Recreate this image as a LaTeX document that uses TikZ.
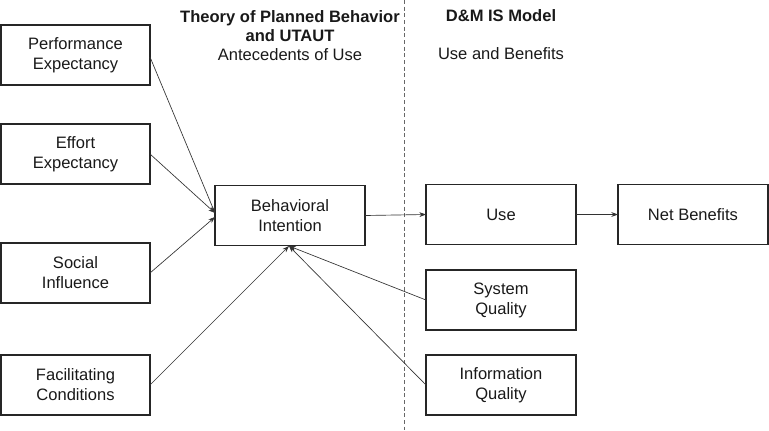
\documentclass[tikz,border=0pt]{standalone}
\usepackage{fontspec}
\setmainfont{Liberation Sans}
\usetikzlibrary{arrows.meta,calc}
\begin{document}
\begin{tikzpicture}[x=0.75pt,y=-0.75pt,
  box/.style={draw=black!85,line width=0.8pt,minimum width=149*0.75pt,minimum height=60*0.75pt,
    inner sep=0pt,outer sep=0pt,align=center,font=\fontsize{12.4}{15}\selectfont,text=black!90},
  conn/.style={draw=black!80,line width=0.5pt,-{Stealth[length=5pt,width=3.6pt]}},
  ttl/.style={align=center,font=\fontsize{12.4}{14}\selectfont,text=black!90,inner sep=0pt}]
\useasboundingbox (0,0) rectangle (769,430);
\draw[gray!80!black,line width=0.6pt,dash pattern=on 3pt off 2pt] (404,0) -- (404,430);

\node[ttl] (t1) at (290,35.5) {\textbf{Theory of Planned Behavior}\\\textbf{and UTAUT}\\Antecedents of Use};
\node[ttl,font=\fontsize{12.4}{14}\selectfont\bfseries] (t2) at (501,16) {D\&M IS Model};
\node[ttl] (t3) at (501,54) {Use and Benefits};

\node[box] (pe) at (75.5,55) {Performance\\Expectancy};
\node[box] (ee) at (75.5,154) {Effort\\Expectancy};
\node[box] (si) at (75.5,273) {Social\\Influence};
\node[box] (fc) at (75.5,385) {Facilitating\\Conditions};
\node[box,minimum width=150*0.75pt] (bi) at (290,215.5) {Behavioral\\Intention};
\node[box,minimum width=150*0.75pt] (use) at (501,214.5) {Use};
\node[box,minimum width=150*0.75pt] (nb) at (693,214.5) {Net Benefits};
\node[box,minimum width=150*0.75pt] (sq) at (501,300) {System\\Quality};
\node[box,minimum width=150*0.75pt] (iq) at (501,385) {Information\\Quality};

\coordinate (bil) at (215,213);
\coordinate (bil2) at (215,217);
\coordinate (bib) at (289,246);

\draw[conn] ($(pe.east)+(0,2)$) -- (bil);
\draw[conn] (ee.east) -- (bil);
\draw[conn] (si.east) -- (bil2);
\draw[conn] (fc.east) -- (bib);
\draw[conn] (sq.west) -- (bib);
\draw[conn] (iq.west) -- (bib);
\draw[conn] (bi.east) -- (use.west);
\draw[conn] (use.east) -- (nb.west);
\end{tikzpicture}
\end{document}
